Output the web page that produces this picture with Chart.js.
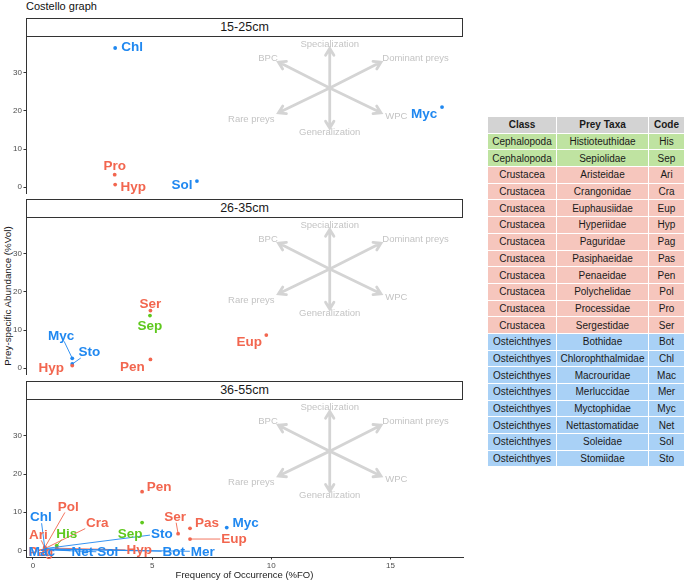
<!DOCTYPE html>
<html>
<head>
<meta charset="utf-8">
<script src="https://cdn.jsdelivr.net/npm/chart.js@4.4.1/dist/chart.umd.min.js"></script>
<style>
  body { margin: 0; background: #fff; font-family: "Liberation Sans", Arial, sans-serif; }
  #wrap { position: relative; width: 685px; height: 582px; overflow: hidden; }
  canvas { position: absolute; left: 0; }
  .title { position: absolute; left: 26px; top: 0px; font-size: 11px; color: #111; }
  .strip { position: absolute; left: 26px; width: 437px; height: 19.5px; box-sizing: border-box;
           border: 1.2px solid #333; background: #fff; text-align: center; font-size: 12.5px;
           line-height: 17px; color: #1a1a1a; }
  .ytitle { position: absolute; left: 7px; top: 296px; transform: translate(-50%, -50%) rotate(-90deg);
            white-space: nowrap; font-size: 9.8px; color: #1a1a1a; }
  table { position: absolute; left: 487px; top: 116px; width: 197px; border-collapse: collapse;
          table-layout: fixed; font-size: 10px; color: #1a1a1a; }
  td, th { border: 1px solid #fff; height: 15.7px; padding: 0; text-align: center; white-space: nowrap; }
  th { background: #d3d3d3; font-weight: bold; }
</style>
</head>
<body>
<div id="wrap">
  <div class="title">Costello graph</div>
  <div class="ytitle">Prey-specific Abundance (%Vol)</div>
</div>
<script>
/* ── данные: таблица жертв ───────────────────────────── */
const tableClass = ['Cephalopoda','Cephalopoda','Crustacea','Crustacea','Crustacea','Crustacea','Crustacea',
  'Crustacea','Crustacea','Crustacea','Crustacea','Crustacea','Osteichthyes','Osteichthyes','Osteichthyes',
  'Osteichthyes','Osteichthyes','Osteichthyes','Osteichthyes','Osteichthyes'];
const tableTaxa = ['Histioteuthidae','Sepiolidae','Aristeidae','Crangonidae','Euphausiidae','Hyperiidae',
  'Paguridae','Pasiphaeidae','Penaeidae','Polychelidae','Processidae','Sergestidae','Bothidae',
  'Chlorophthalmidae','Macrouridae','Merluccidae','Myctophidae','Nettastomatidae','Soleidae','Stomiidae'];
const tableCode = ['His','Sep','Ari','Cra','Eup','Hyp','Pag','Pas','Pen','Pol','Pro','Ser','Bot','Chl',
  'Mac','Mer','Myc','Net','Sol','Sto'];

const classes = ['Cephalopoda','Crustacea','Osteichthyes'];
const panels  = ['15-25cm','26-35cm','36-55cm'];
const xTicks  = [0, 5, 10, 15];
const yTicks  = [0, 10, 20, 30];

/* ── данные: точки по размерным классам (%FO, %Vol) ──── */
const codes1 = ['Chl','Myc','Pro','Hyp','Sol'];
const fo1    = [3.45, 17.16, 3.43, 3.45, 6.88];
const vol1   = [36.5, 21.0, 3.3, 0.7, 1.6];

const codes2 = ['Ser','Sep','Eup','Pen','Myc','Sto','Hyp'];
const fo2    = [4.93, 4.91, 9.79, 4.93, 1.65, 1.65, 1.65];
const vol2   = [15.1, 13.8, 8.7, 2.3, 2.6, 1.1, 0.7];

const codes3 = ['Pen','Sep','Ser','Pas','Myc','Eup','Chl','Pol','Cra','Ari','His','Pag','Mac','Net','Sol','Hyp','Bot','Mer','Sto'];
const fo3    = [4.58, 4.58, 6.09, 6.59, 8.13, 6.59, 0.5, 0.5, 0.5, 0.5, 1.0, 0.5, 0.5, 0.5, 0.5, 1.0, 0.5, 0.5, 0.5];
const vol3   = [15.4, 7.3, 4.4, 5.8, 6.0, 3.0, 0.6, 0.8, 0.5, 0.7, 1.3, 0.3, 0.3, 0.4, 0.2, 0.6, 0.4, 0.4, 0.5];

/* ── оформление ─────────────────────────────────────── */
const FONT = '"Liberation Sans", Arial, sans-serif';
const classColors = { Cephalopoda: '#5fc81e', Crustacea: '#f2664f', Osteichthyes: '#2088f0' };
const rowColors   = { Cephalopoda: '#bfe3a1', Crustacea: '#f6c6bd', Osteichthyes: '#a9d1f6' };

/* смещения подписей (px от точки к центру подписи) + нужна ли линия */
const labelPlace = [
  { Chl: [17, -1.5], Myc: [-18, 7], Pro: [0, -8.5], Hyp: [18, 2], Sol: [-15, 4] },
  { Ser: [0, -7], Sep: [0, 10], Eup: [-17, 7], Pen: [-18, 7], Myc: [-11, -23, 1], Sto: [17, -12, 1], Hyp: [-21, 2] },
  { Pen: [17, -5], Sep: [-12, 11], Ser: [-3, -17, 1], Pas: [17, -6], Myc: [19, -5], Eup: [44, 0, 1],
    Chl: [-4, -31, 1], Pol: [23.5, -41, 1], Cra: [52.5, -26, 1], Ari: [-6.5, -13.5, 1], His: [10, -12, 1],
    Pag: [-4, 2.5], Mac: [-3, 2.5], Net: [37.5, 2.5, 1], Sol: [63, 2.5, 1], Hyp: [82.5, 2, 1],
    Bot: [129, 2.5, 1], Mer: [158, 2.5, 1], Sto: [117, -15, 1] }
];

/* схема Костелло: центр и концы стрелок в единицах осей */
const diagCenter = [12.45, 26];
const diagEnds = [[12.45, 36.4], [12.45, 15.5], [14.6, 32.8], [10.3, 32.8], [14.6, 19.5], [10.3, 19.5]];
const diagText = [
  ['Specialization', 12.45, 37.4], ['Generalization', 12.45, 14.45], ['BPC', 9.86, 33.8],
  ['Dominant preys', 16.05, 33.8], ['Rare preys', 9.16, 17.9], ['WPC', 15.24, 18.5]
];

const classOf = code => tableClass[tableCode.indexOf(code)];

/* ── плагин: стрелки на фоне ────────────────────────── */
const diagramPlugin = {
  id: 'diagram',
  beforeDatasetsDraw(chart) {
    const { ctx, scales: { x, y } } = chart;
    const ox = x.getPixelForValue(diagCenter[0]), oy = y.getPixelForValue(diagCenter[1]);
    ctx.save();
    ctx.strokeStyle = '#d4d4d4';
    ctx.lineWidth = 2.8;
    ctx.lineCap = 'round';
    diagEnds.forEach(([vx, vy]) => {
      const ex = x.getPixelForValue(vx), ey = y.getPixelForValue(vy);
      const a = Math.atan2(ey - oy, ex - ox), h = 8;
      ctx.beginPath();
      ctx.moveTo(ox, oy); ctx.lineTo(ex, ey);
      ctx.moveTo(ex - h * Math.cos(a - 0.55), ey - h * Math.sin(a - 0.55));
      ctx.lineTo(ex, ey);
      ctx.lineTo(ex - h * Math.cos(a + 0.55), ey - h * Math.sin(a + 0.55));
      ctx.stroke();
    });
    ctx.fillStyle = '#c4c4c4';
    ctx.font = '9.5px ' + FONT;
    ctx.textAlign = 'center';
    ctx.textBaseline = 'middle';
    diagText.forEach(([t, vx, vy]) => ctx.fillText(t, x.getPixelForValue(vx), y.getPixelForValue(vy)));
    ctx.restore();
  }
};

/* ── плагин: подписи точек с выносными линиями ──────── */
const labelPlugin = {
  id: 'labels',
  afterDatasetsDraw(chart) {
    const { ctx } = chart;
    const place = labelPlace[chart.options.panelIdx];
    ctx.save();
    ctx.font = 'bold 13.5px ' + FONT;
    ctx.textAlign = 'center';
    ctx.textBaseline = 'middle';
    const items = [];
    chart.data.datasets.forEach((ds, di) => {
      chart.getDatasetMeta(di).data.forEach((pt, i) => {
        const code = ds.data[i].code;
        const p = place[code] || [0, -8];
        items.push({ code, px: pt.x, py: pt.y, cx: pt.x + p[0], cy: pt.y + p[1], seg: p[2], col: ds.backgroundColor });
      });
    });
    // сначала линии, потом текст
    items.forEach(it => {
      if (!it.seg) return;
      const hw = ctx.measureText(it.code).width / 2 + 1, hh = 6;
      const dx = it.px - it.cx, dy = it.py - it.cy;
      const s = Math.min(dx ? hw / Math.abs(dx) : 1e9, dy ? hh / Math.abs(dy) : 1e9);
      if (s >= 1) return;
      ctx.strokeStyle = it.col;
      ctx.lineWidth = 0.9;
      ctx.beginPath();
      ctx.moveTo(it.px, it.py);
      ctx.lineTo(it.cx + dx * s, it.cy + dy * s);
      ctx.stroke();
    });
    items.forEach(it => { ctx.fillStyle = it.col; ctx.fillText(it.code, it.cx, it.cy + 0.5); });
    ctx.restore();
  }
};

/* ── сборка панели ──────────────────────────────────── */
const allCodes = [codes1, codes2, codes3], allFO = [fo1, fo2, fo3], allVol = [vol1, vol2, vol3];
const canvasTop = [31, 212, 394], canvasH = [169, 169, 188], stripTop = [17.5, 198.5, 380.5];

function makePanel(idx) {
  const wrap = document.getElementById('wrap');
  const cv = document.createElement('canvas');
  cv.width = 470; cv.height = canvasH[idx];
  cv.style.top = canvasTop[idx] + 'px';
  wrap.appendChild(cv);

  const strip = document.createElement('div');
  strip.className = 'strip';
  strip.style.top = stripTop[idx] + 'px';
  strip.textContent = panels[idx];
  wrap.appendChild(strip);

  const last = idx === 2;
  const datasets = classes.map(cls => ({
    label: cls,
    data: allCodes[idx].map((c, i) => ({ x: allFO[idx][i], y: allVol[idx][i], code: c }))
                       .filter(p => classOf(p.code) === cls),
    backgroundColor: classColors[cls],
    borderWidth: 0,
    pointRadius: 1.9
  }));

  new Chart(cv.getContext('2d'), {
    type: 'scatter',
    data: { datasets },
    options: {
      panelIdx: idx,
      responsive: false,
      animation: false,
      events: [],
      layout: { padding: { top: 6, bottom: last ? 0 : 6, left: 0, right: 7 } },
      plugins: { legend: { display: false }, tooltip: { enabled: false } },
      scales: {
        x: {
          type: 'linear', min: -0.29, max: 18.04, display: last,
          afterBuildTicks: s => { s.ticks = xTicks.map(v => ({ value: v })); },
          afterFit: s => { s.height = last ? 25 : 0; },
          grid: { drawOnChartArea: false, drawTicks: true, tickLength: 2.5, color: '#333' },
          border: { display: true, color: '#333', width: 1 },
          ticks: { font: { size: 8, family: FONT }, color: '#4d4d4d', padding: 1, maxRotation: 0 },
          title: { display: true, text: 'Frequency of Occurrence (%FO)', color: '#1a1a1a',
                   font: { size: 9.5, family: FONT }, padding: { top: 0, bottom: 1.3 } }
        },
        y: {
          type: 'linear', min: -1.7, max: 39.3,
          afterBuildTicks: s => { s.ticks = yTicks.map(v => ({ value: v })); },
          afterFit: s => { s.width = 26; },
          grid: { drawOnChartArea: false, drawTicks: true, tickLength: 2.5, color: '#333' },
          border: { display: true, color: '#333', width: 1 },
          ticks: { font: { size: 8, family: FONT }, color: '#4d4d4d', padding: 1.5 }
        }
      }
    },
    plugins: [diagramPlugin, labelPlugin]
  });
}

/* ── таблица справа ─────────────────────────────────── */
function makeTable() {
  const t = document.createElement('table');
  t.innerHTML = '<colgroup><col style="width:69px"><col style="width:92px"><col style="width:36px"></colgroup>'
    + '<tr><th>Class</th><th>Prey Taxa</th><th>Code</th></tr>'
    + tableCode.map((c, i) => `<tr style="background:${rowColors[tableClass[i]]}">`
        + `<td>${tableClass[i]}</td><td>${tableTaxa[i]}</td><td>${c}</td></tr>`).join('');
  document.getElementById('wrap').appendChild(t);
}

[0, 1, 2].forEach(makePanel);
makeTable();
</script>
</body>
</html>
